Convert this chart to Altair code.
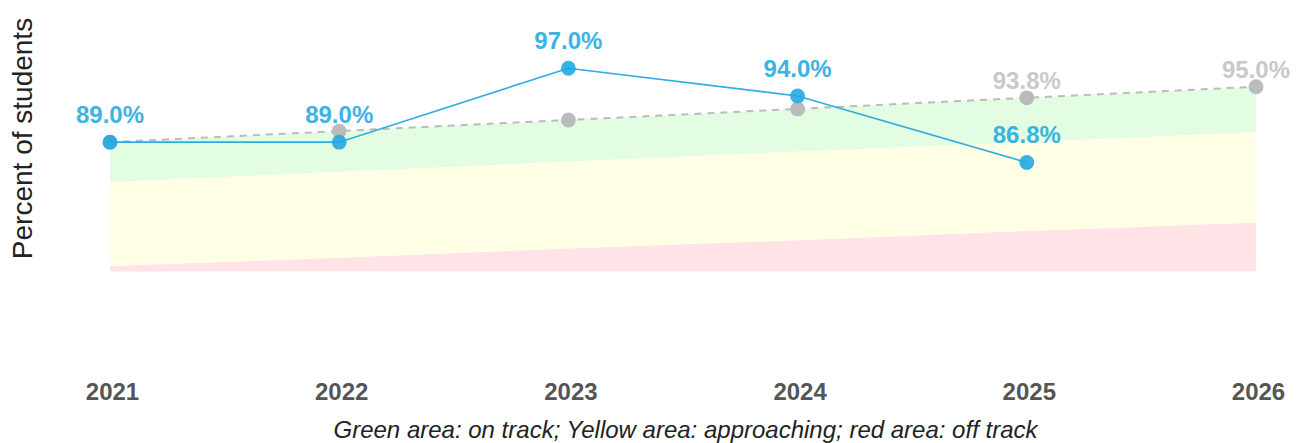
import altair as alt
import pandas as pd

# ---- data ----
years = [2021, 2022, 2023, 2024, 2025, 2026]
actual = [89.0, 89.0, 97.0, 94.0, 86.8]          # no value yet for 2026
target = [89.0, 90.2, 91.4, 92.6, 93.8, 95.0]
green_low = [84.7, 85.8, 86.9, 88.0, 89.0, 90.1]  # green / yellow boundary
red_top = [75.6, 76.5, 77.5, 78.4, 79.4, 80.3]    # yellow / red boundary
floor = [75.0, 75.0, 75.0, 75.0, 75.0, 75.0]
target_label_years = [2025, 2026]

x_title = "Green area: on track; Yellow area: approaching; red area: off track"
y_title = "Percent of students"

FONT = "Liberation Sans"
BLUE = "#22A9E1"
GRAY = "#BBBBBB"

bands = pd.DataFrame(dict(year=years, target=target, green_low=green_low,
                          red_top=red_top, floor=floor))
act = pd.DataFrame(dict(year=years[:len(actual)], actual=actual))
tgt_lab = bands[bands["year"].isin(target_label_years)]

x_axis = alt.Axis(values=years, format="d", title=x_title, grid=False, domain=False,
                  ticks=False, tickSize=0, labelPadding=16, labelFont=FONT,
                  labelFontSize=24, labelFontWeight="bold", labelColor="#555555",
                  labelOffset=2, labelFlush=False, labelBound=False, labelOverlap=False,
                  titleFont=FONT, titleFontSize=24, titleFontStyle="italic",
                  titleFontWeight="normal", titleColor="#222222", titleY=73,
                  titleX=575, titleBaseline="alphabetic")
y_axis = alt.Axis(title=y_title, labels=False, ticks=False, domain=False, grid=False,
                  titleFont=FONT, titleFontSize=28, titleFontWeight="normal",
                  titleColor="#222222", titleAngle=-90, titleX=-87, titleY=116,
                  titleAlign="center", titleBaseline="middle")

xs = alt.Scale(domain=[2021, 2026], nice=False, zero=False)
ys = alt.Scale(domain=[65, 102], nice=False, zero=False)


def X():
    return alt.X("year:Q", scale=xs, axis=x_axis)


def Y(field):
    return alt.Y(f"{field}:Q", scale=ys, axis=y_axis)


base_b = alt.Chart(bands)

red = base_b.mark_area(color="#FFE3E6", opacity=1).encode(
    x=X(), y=Y("floor"), y2="red_top:Q")
yellow = base_b.mark_area(color="#FFFFE6", opacity=1).encode(
    x=X(), y=Y("red_top"), y2="green_low:Q")
green = base_b.mark_area(color="#E3FDE3", opacity=1).encode(
    x=X(), y=Y("green_low"), y2="target:Q")

tline = base_b.mark_line(color=GRAY, strokeWidth=2, strokeDash=[7, 6]).encode(
    x=X(), y=Y("target"))
tpts = base_b.mark_circle(color=GRAY, size=220, opacity=1).encode(
    x=X(), y=Y("target"))
tlab = alt.Chart(tgt_lab).transform_calculate(
    lab="format(datum.target, '.1f') + '%'"
).mark_text(font=FONT, fontSize=24, fontWeight="bold", color="#C4C4C4", opacity=0.9,
            baseline="alphabetic", align="center", dy=-9).encode(
    x=X(), y=Y("target"), text="lab:N")

aline = alt.Chart(act).mark_line(color=BLUE, strokeWidth=1.6, opacity=0.95).encode(
    x=X(), y=Y("actual"))
apts = alt.Chart(act).mark_circle(color=BLUE, size=220, opacity=0.9).encode(
    x=X(), y=Y("actual"))
alab = alt.Chart(act).transform_calculate(
    lab="format(datum.actual, '.1f') + '%'"
).mark_text(font=FONT, fontSize=24, fontWeight="bold", color=BLUE, opacity=0.88,
            baseline="alphabetic", align="center", dy=-19).encode(
    x=X(), y=Y("actual"), text="lab:N")

chart = alt.layer(red, yellow, green, tline, tpts, tlab, aline, apts, alab).properties(
    width=1146, height=342,
    autosize=alt.AutoSizeParams(type="none"),
    padding={"left": 102, "top": 14, "right": 38, "bottom": 79},
).configure(background="white").configure_view(stroke=None, strokeWidth=0)

chart.save("out.html", embed_options={"renderer": "svg", "actions": False})
